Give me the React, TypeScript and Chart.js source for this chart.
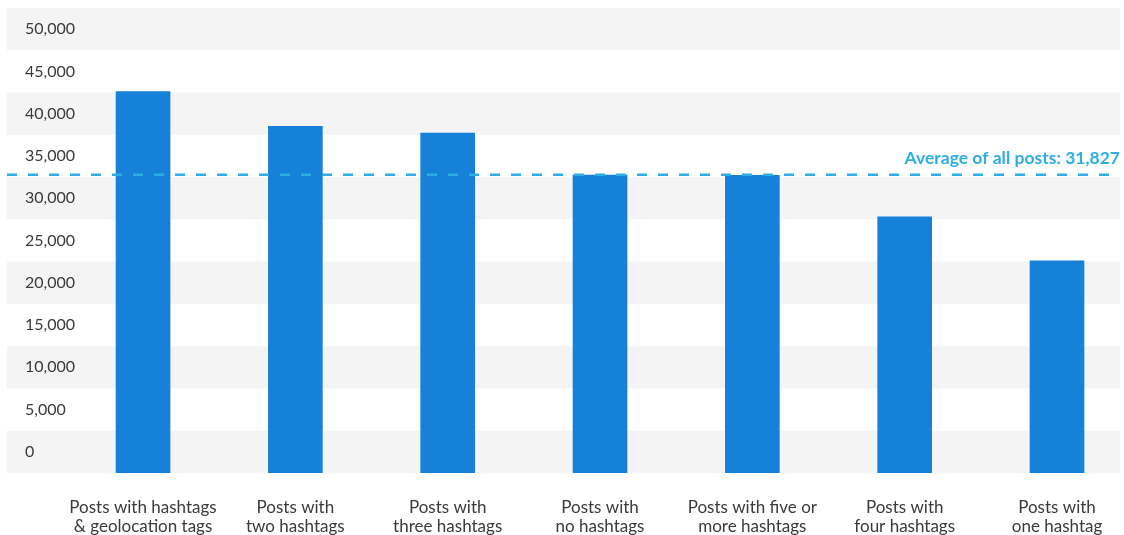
import React, { useEffect, useRef } from 'react';
import { Chart, registerables } from 'chart.js';

Chart.register(...registerables);

const categories: string[][] = [
  ['Posts with hashtags', '& geolocation tags'],
  ['Posts with', 'two hashtags'],
  ['Posts with', 'three hashtags'],
  ['Posts with', 'no hashtags'],
  ['Posts with five or', 'more hashtags'],
  ['Posts with', 'four hashtags'],
  ['Posts with', 'one hashtag'],
];
const engagement = [42600, 38500, 37700, 32750, 32700, 27800, 22600];
const yTicks = [0, 5000, 10000, 15000, 20000, 25000, 30000, 35000, 40000, 45000, 50000];
const averageLineValue = 32780;
const averageLabel = 'Average of all posts: 31,827';

const FONT = 'Lato, "Noto Sans", sans-serif';
const BAND = '#f4f4f4';
const BAR = '#1681d8';
const AVG = '#2eaee0';

const bandsPlugin = {
  id: 'bands',
  beforeDraw(chart: any) {
    const { ctx, chartArea } = chart;
    const y = chart.scales.y;
    const half = (yTicks[1] - yTicks[0]) / 2;
    ctx.save();
    ctx.fillStyle = BAND;
    yTicks.forEach((v) => {
      if (v % 10000 !== 0) return;
      const top = y.getPixelForValue(v + half);
      const bottom = y.getPixelForValue(v - half);
      ctx.fillRect(chartArea.left, top, chartArea.right - chartArea.left, bottom - top);
    });
    ctx.restore();
  },
};

const averagePlugin = {
  id: 'averageLine',
  afterDatasetsDraw(chart: any) {
    const { ctx, chartArea } = chart;
    const py = chart.scales.y.getPixelForValue(averageLineValue);
    ctx.save();
    ctx.strokeStyle = AVG;
    ctx.lineWidth = 2.5;
    ctx.setLineDash([10, 11]);
    ctx.beginPath();
    ctx.moveTo(chartArea.left, py);
    ctx.lineTo(chartArea.right, py);
    ctx.stroke();
    ctx.setLineDash([]);
    ctx.fillStyle = AVG;
    ctx.font = `bold 17.5px ${FONT}`;
    ctx.textAlign = 'right';
    ctx.textBaseline = 'alphabetic';
    ctx.fillText(averageLabel, chartArea.right, py - 11);
    ctx.restore();
  },
};

const zeroPadding = (s: any) => {
  s.paddingLeft = 0;
  s.paddingRight = 0;
  s.paddingTop = 0;
  s.paddingBottom = 0;
};

export default function App() {
  const ref = useRef<HTMLCanvasElement | null>(null);

  useEffect(() => {
    if (!ref.current) return;
    const chart = new Chart(ref.current, {
      type: 'bar',
      data: {
        datasets: [
          {
            data: engagement.map((v, i) => ({ x: i, y: v })),
            backgroundColor: BAR,
            barThickness: 54,
            base: -2500,
          } as any,
        ],
      },
      options: {
        animation: false,
        responsive: true,
        maintainAspectRatio: false,
        layout: { padding: { left: 7, right: 4, top: 8, bottom: 0 } },
        plugins: { legend: { display: false }, tooltip: { enabled: false } },
        scales: {
          x: {
            type: 'linear',
            offset: false,
            min: -0.893,
            max: 6.4135,
            grid: { display: false },
            border: { display: false },
            afterBuildTicks: (s: any) => {
              s.ticks = categories.map((_, i) => ({ value: i }));
            },
            afterFit: (s: any) => {
              s.height = 62;
              zeroPadding(s);
            },
            ticks: {
              autoSkip: false,
              maxRotation: 0,
              padding: 17,
              color: '#3a3a3a',
              font: { family: FONT, size: 17, lineHeight: 1.1 },
              callback: (v: any) => categories[v as number],
            },
          },
          y: {
            type: 'linear',
            min: -2500,
            max: 52500,
            grid: { display: false },
            border: { display: false },
            afterBuildTicks: (s: any) => {
              s.ticks = yTicks.map((v) => ({ value: v }));
            },
            afterFit: (s: any) => {
              s.width = 0;
              zeroPadding(s);
            },
            ticks: {
              mirror: true,
              padding: 18,
              color: '#3a3a3a',
              font: { family: FONT, size: 16 },
              callback: (v: any) => Number(v).toLocaleString('en-US'),
            },
          },
        },
      },
      plugins: [bandsPlugin, averagePlugin],
    });
    return () => chart.destroy();
  }, []);

  return (
    <div style={{ position: 'absolute', left: 0, top: 0, width: 1124, height: 535 }}>
      <canvas ref={ref} />
    </div>
  );
}
